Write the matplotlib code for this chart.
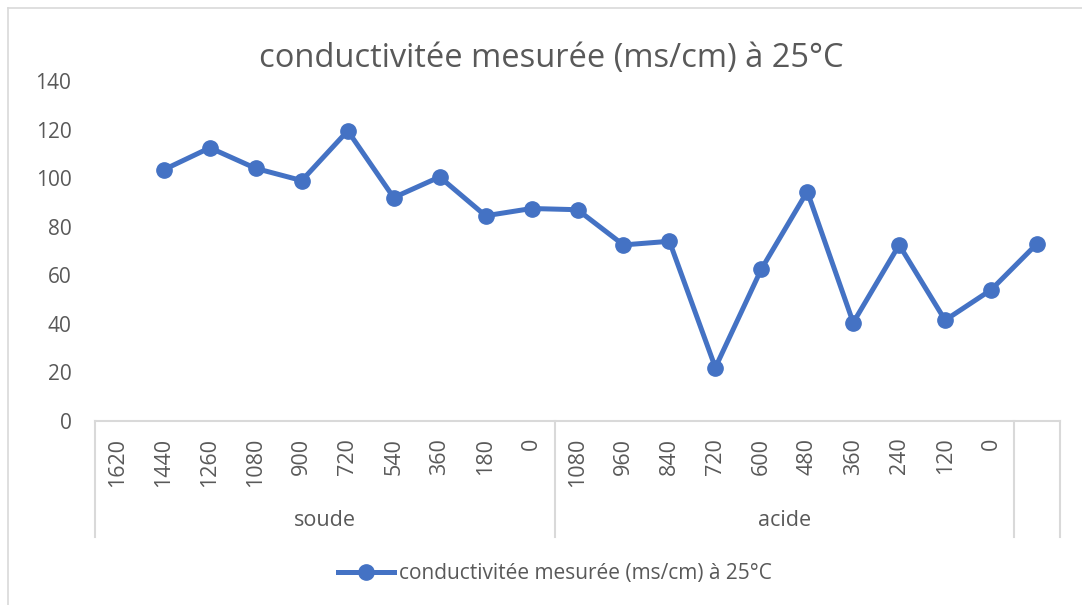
import numpy as np
import matplotlib.pyplot as plt
import matplotlib.transforms as mtransforms
from matplotlib.lines import Line2D

# donnees
soude_temps = ['1620', '1440', '1260', '1080', '900', '720', '540', '360', '180', '0']
acide_temps = ['1080', '960', '840', '720', '600', '480', '360', '240', '120', '0']
groupes = ['soude', 'acide']
tick_labels = soude_temps + acide_temps + ['']
conductivite = [np.nan, 103.5, 112.5, 104, 99, 119.5, 92, 100.5, 84.5, 87.5,
                87, 72.5, 74, 22, 62.5, 94.5, 40.5, 72.5, 41.5, 54, 73]

serie = 'conductivitée mesurée (ms/cm) à 25°C'
bleu = '#4472C4'
gris = '#595959'
gris_clair = '#D9D9D9'

plt.rcParams['font.family'] = ['Open Sans', 'DejaVu Sans']

W, H = 1082, 605
fig = plt.figure(figsize=(W / 100, H / 100), dpi=100)
ax = fig.add_axes([95 / W, 1 - 421 / H, (1060 - 95) / W, (421 - 81) / H])

x = np.arange(len(tick_labels))
ax.plot(x, conductivite, color=bleu, lw=3.6, marker='o', ms=11, label=serie)

ax.set_xlim(-0.5, len(tick_labels) - 0.5)
ax.set_ylim(0, 140)
ax.set_yticks(np.arange(0, 141, 20))
ax.tick_params(axis='y', length=0, pad=17, labelsize=15, labelcolor=gris)
ax.set_xticks(x)
ax.set_xticklabels(tick_labels, rotation=90, va='top', ha='center')
ax.tick_params(axis='x', length=0, pad=12, labelsize=15.5, labelcolor=gris)

for s in ['top', 'right', 'left']:
    ax.spines[s].set_visible(False)
ax.spines['bottom'].set_color(gris_clair)
ax.spines['bottom'].set_linewidth(1.5)

# separateurs des groupes sous l'axe
trans = mtransforms.blended_transform_factory(ax.transData, ax.transAxes)
n1 = len(soude_temps)
n2 = len(acide_temps)
for xs in [-0.5, n1 - 0.5, n1 + n2 - 0.5, len(tick_labels) - 0.5]:
    ax.plot([xs, xs], [0, -116 / 340], color=gris_clair, lw=1.5,
            transform=trans, clip_on=False)

centres = [(n1 - 1) / 2, n1 + (n2 - 1) / 2]
for c, g in zip(centres, groupes):
    ax.text(c, -99 / 340, g, transform=trans, ha='center', va='center',
            fontsize=15.5, color=gris)

fig.text(551 / W, 1 - 67 / H, serie, ha='center', va='baseline',
         fontsize=23.5, color=gris)

handle = Line2D([], [], color=bleu, lw=3.6, marker='o', ms=11)
fig.legend([handle], [serie], loc='center', bbox_to_anchor=(555 / W, 1 - 574 / H),
           frameon=False, fontsize=15, labelcolor=gris, handlelength=2.65,
           handletextpad=0.25)

# bordure de la zone du graphique
fig.add_artist(Line2D([8 / W, 8 / W], [0, 1 - 8 / H], color=gris_clair, lw=1.2))
fig.add_artist(Line2D([8 / W, 1], [1 - 8 / H, 1 - 8 / H], color=gris_clair, lw=1.2))

fig.savefig('out.png', dpi=100)
